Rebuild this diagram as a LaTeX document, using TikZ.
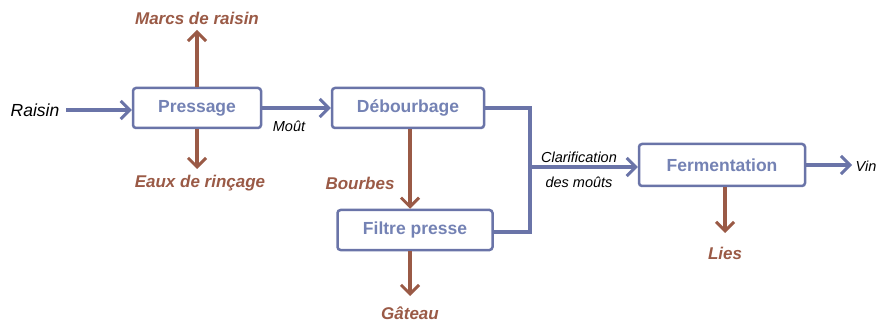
\documentclass[tikz,border=0pt]{standalone}
\usepackage{fontspec}
\setmainfont{Liberation Sans}
\usetikzlibrary{arrows.meta}
\definecolor{bluegray}{HTML}{6A74A8}
\definecolor{boxtext}{HTML}{7482B4}
\definecolor{brownish}{HTML}{9A5A46}
\tikzset{
  procbox/.style={draw=bluegray, line width=2.5pt, rounded corners=3pt, fill=white, font=\bfseries\fontsize{17.5}{19}\selectfont, text=boxtext, minimum height=40pt, inner sep=0pt},
  bflow/.style={draw=bluegray, line width=3.2pt, -{Straight Barb[length=9pt,width=18pt,line width=3pt]}},
  bline/.style={draw=bluegray, line width=3.2pt},
  rflow/.style={draw=brownish, line width=3.2pt, -{Straight Barb[length=9pt,width=18pt,line width=3pt]}},
  rlab/.style={font=\bfseries\itshape\fontsize{17}{19}\selectfont, text=brownish, inner sep=0pt},
  klab/.style={font=\itshape\fontsize{14.5}{16}\selectfont, inner sep=0pt},
}
\begin{document}
\begin{tikzpicture}[x=1pt,y=-1pt]
\useasboundingbox (0,0) rectangle (878,323);
\node[procbox, minimum width=128pt] (pres) at (197,108) {Pressage};
\node[procbox, minimum width=152pt] (debo) at (408,108) {Débourbage};
\node[procbox, minimum width=155pt] (filt) at (415,230) {Filtre presse};
\node[procbox, minimum width=166pt, minimum height=42pt] (ferm) at (722,165) {Fermentation};

\node[font=\itshape\fontsize{17.5}{19}\selectfont, inner sep=0pt] (raisin) at (35,110) {Raisin};
\node[rlab] (marcs) at (197,18) {Marcs de raisin};
\node[rlab] (eaux) at (200,183) {Eaux de rinçage};
\node[rlab] (bourbes) at (360,183) {Bourbes};
\node[rlab] (gateau) at (410,313) {Gâteau};
\node[rlab] (lies) at (725,253) {Lies};
\node[klab] (vin) at (866,166) {Vin};
\node[klab] (mout) at (289,126) {Moût};
\node[klab] (clar) at (579,157) {Clarification};
\node[klab] (desm) at (579,182) {des moûts};

\coordinate (c1) at (530,108);
\coordinate (c2) at (530,232);
\coordinate (cm) at (530,167);
\coordinate (marcsend) at (197,30);
\coordinate (eauxend) at (197,169);
\coordinate (gatend) at (410,296);
\coordinate (liesend) at (725,233);
\coordinate (vinend) at (852,165);
\coordinate (rstart) at (66,110);

\draw[bflow] (rstart) -- (pres.west|-rstart);
\draw[bflow] (pres.east) -- (debo.west);
\draw[bline] (debo.east) -- (c1) -- (c2) -- (filt.east|-c2);
\draw[bflow] (cm) -- (ferm.west|-cm);
\draw[bflow] (ferm.east) -- (vinend);
\draw[rflow] (pres.north) -- (marcsend);
\draw[rflow] (pres.south) -- (eauxend);
\draw[rflow] (debo.south-|410,0) -- (filt.north-|410,0);
\draw[rflow] (filt.south-|410,0) -- (gatend);
\draw[rflow] (ferm.south-|725,0) -- (liesend);
\end{tikzpicture}
\end{document}
